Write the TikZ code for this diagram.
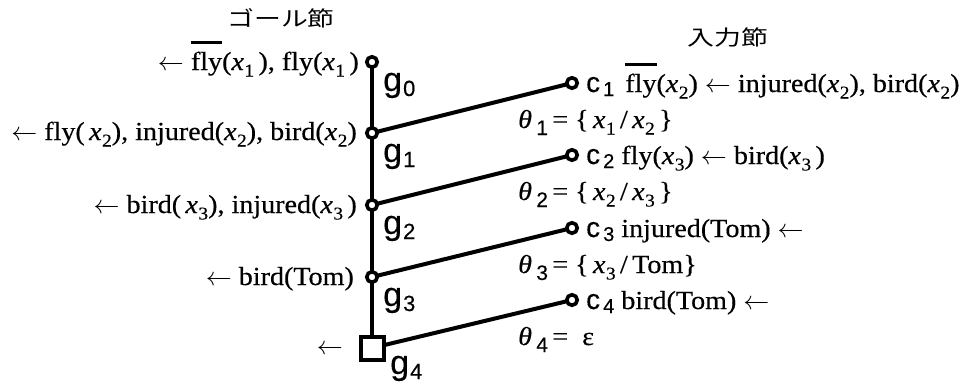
\RequirePackage{fix-cm}
\documentclass[tikz,border=0pt]{standalone}
\usepackage{fontspec}
\setmainfont[FakeStretch=1.08,FakeBold=0.4]{Liberation Serif}
\newfontfamily\helv[FakeBold=0.3]{Liberation Sans}
\newfontfamily\jpfont[FakeStretch=1.28]{Noto Sans CJK JP}
\pgfdeclarelayer{background}
\pgfsetlayers{background,main}
\newlength\ovlw
\newcommand{\vx}[1]{\textit{x}\kern0.5pt\raisebox{-0.25em}{\fontsize{18}{18}\selectfont #1}}
\newcommand{\ovl}[1]{\settowidth{\ovlw}{#1}\rlap{\raisebox{1.0em}{\rule{\ovlw}{3pt}}}#1}
\newcommand{\la}{$\leftarrow$}
\newcommand{\gsub}[1]{\kern1pt\raisebox{-5pt}{\fontsize{22}{22}\selectfont #1}}
\newcommand{\clab}[1]{{\helv\fontsize{28}{28}\selectfont c\kern3pt\raisebox{-4pt}{\fontsize{20}{20}\selectfont #1}}}
\newcommand{\thlab}[1]{\textit{θ}\,\raisebox{-7pt}{\helv\fontsize{21}{21}\selectfont #1}}
\begin{document}
\begin{tikzpicture}[x=1pt,y=-1pt,
  gc/.style={circle,draw,line width=3.6pt,fill=white,minimum size=10.5pt,inner sep=0pt},
  gsq/.style={rectangle,draw,line width=4pt,fill=white,minimum size=23pt,inner sep=0pt},
  link/.style={line width=4pt},
  txt/.style={inner sep=0pt,font=\fontsize{26}{30}\selectfont},
  glab/.style={inner sep=0pt,font=\helv\fontsize{34}{34}\selectfont},
  head/.style={inner sep=0pt,font=\jpfont\fontsize{21}{21}\selectfont}
]
\useasboundingbox (0,0) rectangle (973,383);
% goal nodes
\node[gc] (g0) at (372,62) {};
\node[gc] (g1) at (372,133) {};
\node[gc] (g2) at (372,205) {};
\node[gc] (g3) at (372,277) {};
\node[gsq] (g4) at (372,348) {};
% input nodes
\node[gc] (c1) at (572,83) {};
\node[gc] (c2) at (572,155) {};
\node[gc] (c3) at (572,228) {};
\node[gc] (c4) at (572,300) {};
% connectors
\begin{pgfonlayer}{background}
\draw[link] (g0.center) -- (g1.center) -- (g2.center) -- (g3.center) -- (g4.center);
\draw[link] (g1.center) -- (c1.center);
\draw[link] (g2.center) -- (c2.center);
\draw[link] (g3.center) -- (c3.center);
\draw[link] (g4.center) -- (c4.center);
\end{pgfonlayer}
% headings
\node[head] (hg) at (281,18) {ゴール節};
\node[head] (hc) at (728,38) {入力節};
% g labels
\node[glab,anchor=base west] (lg0) at (383,91) {g\gsub{0}};
\node[glab,anchor=base west] (lg1) at (383,162) {g\gsub{1}};
\node[glab,anchor=base west] (lg2) at (383,234) {g\gsub{2}};
\node[glab,anchor=base west] (lg3) at (383,306) {g\gsub{3}};
\node[glab,anchor=base west] (lg4) at (390,374) {g\gsub{4}};
% goal clauses
\node[txt,anchor=base east] (t0) at (359,70) {\la\ \ovl{fly}(\vx{1}\,), fly(\vx{1}\,)};
\node[txt,anchor=base east] (t1) at (357,140) {\la\ fly(\,\vx{2}), injured(\vx{2}), bird(\vx{2})};
\node[txt,anchor=base east] (t2) at (357,213) {\la\ bird(\,\vx{3}), injured(\vx{3}\,)};
\node[txt,anchor=base east] (t3) at (354,285) {\la\ bird(Tom)};
\node[txt,anchor=base east] (t4) at (343,354) {\la};
% input clauses
\node[txt,anchor=base west] (r1) at (586,92) {\clab{1}\hspace{11pt}\ovl{fly}(\vx{2}) \la\ injured(\vx{2}), bird(\vx{2})};
\node[txt,anchor=base west] (r2) at (586,164) {\clab{2}\hspace{7pt}fly(\vx{3}) \la\ bird(\vx{3}\,)};
\node[txt,anchor=base west] (r3) at (586,237) {\clab{3}\hspace{7pt}injured(Tom) \la};
\node[txt,anchor=base west] (r4) at (586,309) {\clab{4}\hspace{7pt}bird(Tom) \la};
% substitutions
\node[txt,anchor=base west] (s1) at (518,128) {\thlab{1}\,= \{\,\vx{1}\,/\,\vx{2}\,\}};
\node[txt,anchor=base west] (s2) at (518,200) {\thlab{2}\,= \{\,\vx{2}\,/\,\vx{3}\,\}};
\node[txt,anchor=base west] (s3) at (518,273) {\thlab{3}\,= \{\,\vx{3}\,/\,Tom\}};
\node[txt,anchor=base west] (s4) at (518,345) {\thlab{4}\,= \ ε};
\end{tikzpicture}
\end{document}
